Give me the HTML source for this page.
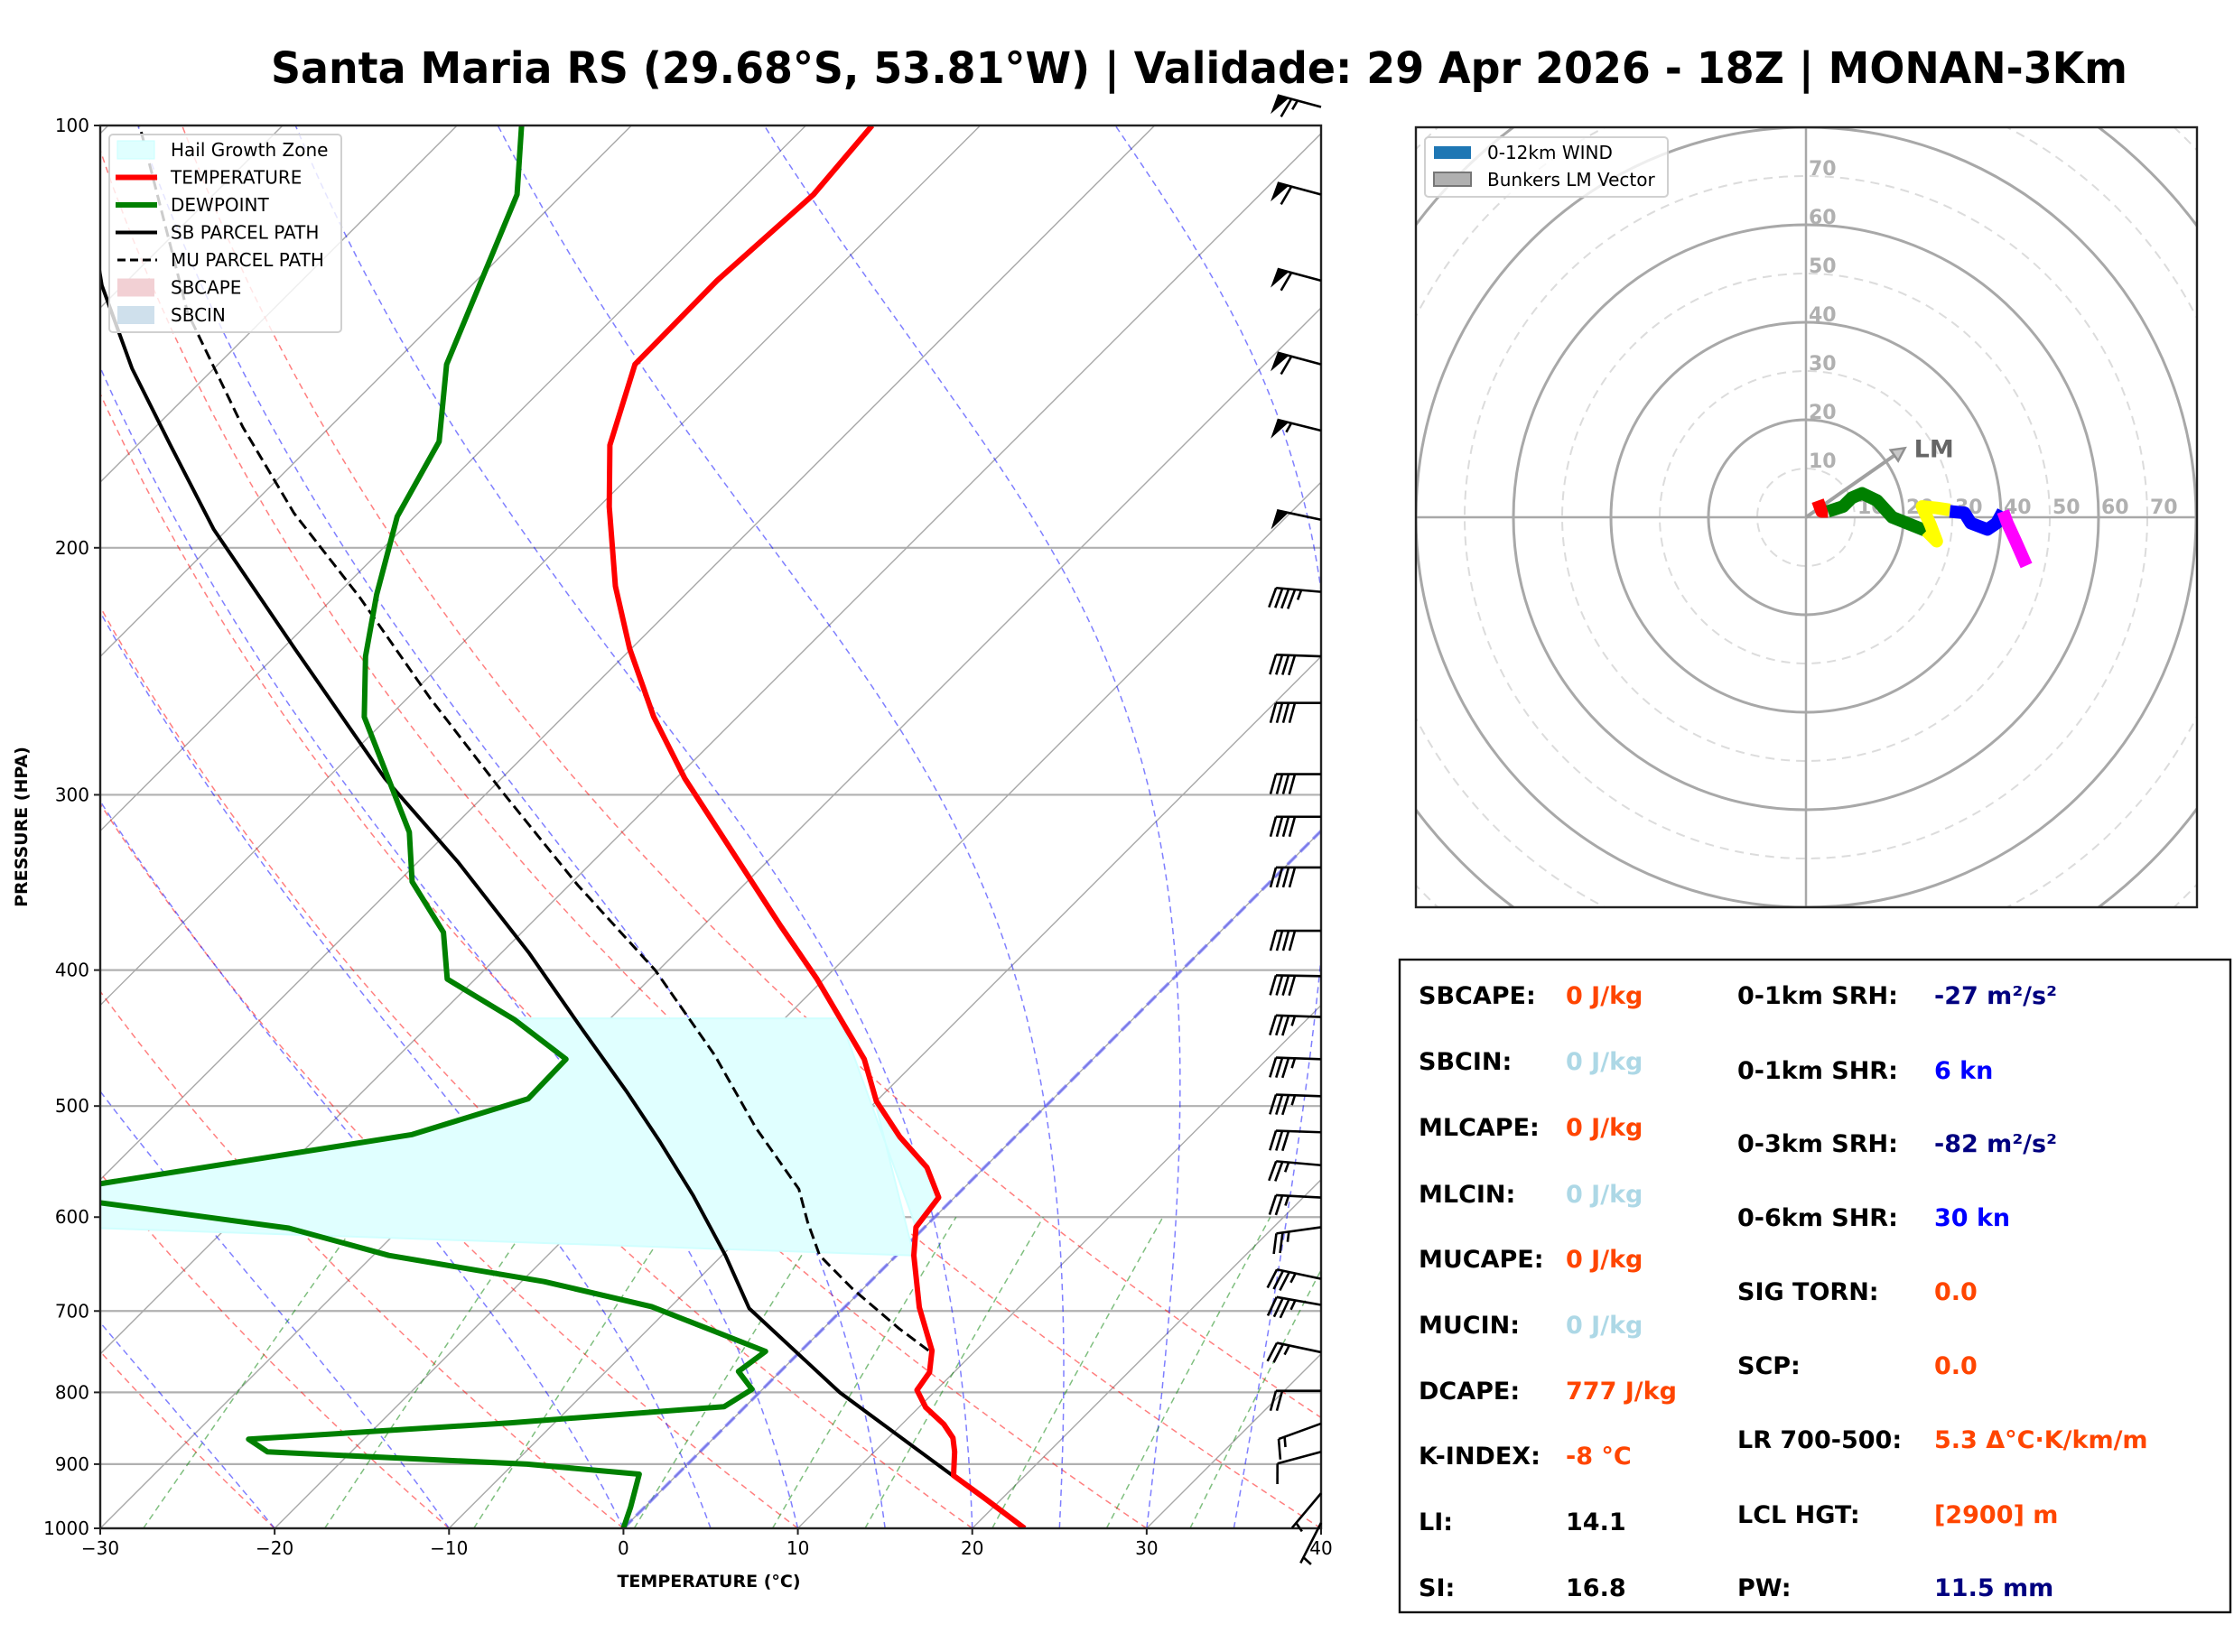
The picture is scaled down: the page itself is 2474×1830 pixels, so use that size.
<!DOCTYPE html>
<html><head><meta charset="utf-8"><title>Skew-T Santa Maria RS</title>
<style>
html,body{margin:0;padding:0;background:#fff;}
svg{display:block;font-family:"DejaVu Sans","Liberation Sans",sans-serif;}
</style></head>
<body>
<svg id="fig" xmlns="http://www.w3.org/2000/svg" width="2474" height="1830" viewBox="0 0 2474 1830">
<rect x="0" y="0" width="2474" height="1830" fill="#fff"/>
<text x="1328" y="92" text-anchor="middle" font-size="48" font-weight="bold" textLength="2056" lengthAdjust="spacingAndGlyphs">Santa Maria RS (29.68°S, 53.81°W) | Validade: 29 Apr 2026 - 18Z | MONAN-3Km</text>
<defs>
<clipPath id="skewClip"><rect x="111" y="139" width="1352" height="1554"/></clipPath>
<clipPath id="hodoClip"><rect x="1568" y="141" width="865" height="864"/></clipPath>
</defs>
<g id="skewBg" clip-path="url(#skewClip)"></g>
<g id="skewData" clip-path="url(#skewClip)"></g>
<g id="skewAxes"></g>
<g id="barbs"></g>
<g id="skewLegend"></g>
<g id="hodo"></g>
<g id="table"></g>
</svg>
<script>
// ---------------- data ----------------
const tempP = [1000,952,917,882,862,843,820,797,774,747,696,639,610,581,553,526,496,463,406,371,292,264,236,213,187,169,148,129,112,100];
const tempT = [23,19.0,15.9,14.6,13.7,12.4,10.4,8.9,8.6,7.5,4.3,1.0,-0.5,-0.9,-3.3,-6.6,-10.0,-13.1,-20.4,-25.7,-39.5,-44.8,-50.1,-54.5,-59.4,-62.9,-66.1,-66.2,-65.6,-66.2];
const dewP = [1000,966,915,900,882,864,841,819,796,773,748,695,667,639,611,586,578,524,494,463,434,406,376,346,319,264,239,216,190,168,148,112,100];
const dewT = [0,-0.8,-2.2,-9.2,-24.8,-26.6,-12.5,-1.2,-0.6,-2.4,-2.0,-11.1,-18.7,-29.1,-36.4,-48.7,-53,-34.7,-30.1,-30.2,-35.4,-41.6,-44.5,-49.2,-52.2,-61.4,-64.8,-67.7,-71.0,-72.9,-76.9,-82.6,-86.3];
const sbP = [1000,900,800,697,639,579,530,488,440,389,335,292,236,194,169,149,130,110];
const sbT = [23,14.3,4.6,-5.4,-9.8,-15.1,-20.1,-24.9,-31.1,-38.4,-47.7,-56.7,-69.3,-80.8,-88.1,-94.7,-101.2,-108];
const muP = [747,720,675,639,605,573,518,460,400,348,298,256,217,189,164,136,100];
const muT = [7.3,4.3,-0.6,-4.4,-7.0,-9.4,-15.4,-21.9,-30.2,-39.5,-49.3,-58.7,-68.5,-77.1,-85.0,-94.7,-108.2];
const hgzTopP = 433, hgzBotP = 639, hgzLeftP = 611, hgzLeftT = -47.2;
const barbP = [97,112,129,148,165,191,215,239,258,290,311,338,375,404,432,463,492,522,551,581,610,664,693,749,798,842,882,944,991];
const barbSpd = [65,60,60,60,55,50,45,40,40,40,40,40,40,40,35,35,35,30,25,25,25,35,35,25,20,15,10,5,5];
const barbDir = [285,285,285,285,284,282,275,272,270,270,270,270,270,271,272,272,272,272,275,273,262,282,280,282,270,250,255,220,207];
const pressTicks = [100,200,300,400,500,600,700,800,900,1000];
const tempTicks = [-30,-20,-10,0,10,20,30,40];
// hodograph (knots)
const hodoRedU = [2.4,3.2,4.5], hodoRedV = [3.4,1.2,1.2];
const hodoGreenU = [4.5,7.6,9.4,11.5,14.6,17.7,20.7,24.7], hodoGreenV = [1.2,2.2,4.0,4.9,3.4,0,-1.2,-2.8];
const hodoYellowU = [24.7,26.8,25.5,23.8,26.8,29.5], hodoYellowV = [-2.8,-4.9,-1.5,2.2,1.9,1.5];
const hodoBlueU = [29.5,32.5,33.8,37.2,39.1,40.4], hodoBlueV = [1.2,0.9,-1.2,-2.5,-1.2,1.2];
const hodoMagU = [40.4,41.3,43.0,45.2], hodoMagV = [1.2,-1.2,-4.9,-9.9];
const lmU = 20.3, lmV = 14.2;
const ringLabels = [10,20,30,40,50,60,70];
// table
const tblLeftLabels = ["SBCAPE:","SBCIN:","MLCAPE:","MLCIN:","MUCAPE:","MUCIN:","DCAPE:","K-INDEX:","LI:","SI:"];
const tblLeftValues = ["0 J/kg","0 J/kg","0 J/kg","0 J/kg","0 J/kg","0 J/kg","777 J/kg","-8 °C","14.1","16.8"];
const tblLeftColors = ["#ff4500","#add8e6","#ff4500","#add8e6","#ff4500","#add8e6","#ff4500","#ff4500","#000","#000"];
const tblLeftY = [1112,1185,1258,1332,1404,1477,1550,1622,1695,1768];
const tblRightLabels = ["0-1km SRH:","0-1km SHR:","0-3km SRH:","0-6km SHR:","SIG TORN:","SCP:","LR 700-500:","LCL HGT:","PW:"];
const tblRightValues = ["-27 m²/s²","6 kn","-82 m²/s²","30 kn","0.0","0.0","5.3 Δ°C·K/km/m","[2900] m","11.5 mm"];
const tblRightColors = ["#000080","#0000ff","#000080","#0000ff","#ff4500","#ff4500","#ff4500","#ff4500","#000080"];
const tblRightY = [1112,1195,1276,1358,1440,1522,1604,1687,1768];

// ---------------- helpers ----------------
const NS = "http://www.w3.org/2000/svg";
function mk(tag, attrs, parent){ const e=document.createElementNS(NS,tag); for(const k in attrs) e.setAttribute(k,attrs[k]); parent.appendChild(e); return e; }
const X0=111, X1=1463, YT=139, YB=1693, PXC=(X1-X0)/70;
function yP(p){ return YT + (Math.log10(p)-2)*(YB-YT); }
function xT(T,p){ return X0 + (T+30)*PXC + (YB - yP(p)); }
function pts(Ts,Ps){ return Ts.map((t,i)=>xT(t,Ps[i]).toFixed(1)+","+yP(Ps[i]).toFixed(1)).join(" "); }

const bg=document.getElementById('skewBg');
pressTicks.forEach(p=>{
  const l=mk('line',{x1:X0,x2:X1,y1:yP(p),y2:yP(p),stroke:'#b0b0b0','stroke-width':2.2},bg);
  
  
});
for(let T=-170;T<=40;T+=10){
  const l=mk('line',{x1:xT(T,1050),y1:yP(1050),x2:xT(T,95),y2:yP(95),stroke:'#a8a8a8','stroke-width':1.4},bg);
  
  
}
for(let T0=-40;T0<=50;T0+=10){
  const th=T0+273.15, a=[], b=[];
  for(let p=1000;p>=100;p-=10){ a.push(th*Math.pow(p/1000,0.2857)-273.15); b.push(p); }
  const l=mk('polyline',{points:pts(a,b),fill:'none',stroke:'#ff0000','stroke-opacity':0.5,'stroke-width':1.5,'stroke-dasharray':'7,5'},bg);
  
  
}
function lapse(p,T){ const Tc=T-273.15; const es=6.112*Math.exp(17.67*Tc/(Tc+243.5)); const rs=0.622*es/(p-es);
  return (287.04*T+2.501e6*rs)/(1005.7+2.501e6*2.501e6*rs*0.622/(287.04*T*T))/p; }
const moistT0=[-40,-30,-20,-10,0,5,10,15,20,25,30,35,40,45];
moistT0.forEach(T0=>{
  let T=T0+273.15, p=1000; const a=[T0], b=[1000]; const dp=-5;
  while(p>100){ const k1=lapse(p,T); const k2=lapse(p+dp/2,T+k1*dp/2); T+=k2*dp; p+=dp; a.push(T-273.15); b.push(p); }
  const l=mk('polyline',{points:pts(a,b),fill:'none',stroke:'#0000ff','stroke-opacity':0.5,'stroke-width':1.5,'stroke-dasharray':'7,5'},bg);
  
  
});
[0.0004,0.001,0.002,0.004,0.007,0.01,0.016,0.024,0.032].forEach(w=>{
  const a=[],b=[];
  for(let p=1000;p>=600;p-=20){ const e=w*p/(0.622+w); const L=Math.log(e/6.112); a.push(243.5*L/(17.67-L)); b.push(p); }
  const l=mk('polyline',{points:pts(a,b),fill:'none',stroke:'#008000','stroke-opacity':0.5,'stroke-width':1.5,'stroke-dasharray':'7,5'},bg);
  
  
});
{ const l=mk('line',{x1:xT(0,1000),y1:yP(1000),x2:xT(0,100),y2:yP(100),stroke:'#5555ff','stroke-opacity':0.6,'stroke-width':3.5,'stroke-dasharray':'14,6'},bg);
  
   }

// ---------------- profiles ----------------
const sd=document.getElementById('skewData');
function interp(P,V,p){ for(let i=0;i<P.length-1;i++){ if((p<=P[i]&&p>=P[i+1])){ const f=Math.log(p/P[i])/Math.log(P[i+1]/P[i]); return V[i]+f*(V[i+1]-V[i]); } } return V[V.length-1]; }
{
  const a=[],b=[];
  a.push(interp(tempP,tempT,hgzTopP)); b.push(hgzTopP);
  tempP.forEach((p,i)=>{ if(p>hgzTopP&&p<hgzBotP){ a.push(tempT[i]); b.push(p);} });
  a.push(interp(tempP,tempT,hgzBotP)); b.push(hgzBotP);
  a.push(hgzLeftT); b.push(hgzLeftP);
  const dd=[]; dewP.forEach((p,i)=>{ if(p<=580&&p>hgzTopP) dd.push([dewT[i],p]); });
  dd.forEach(d=>{a.push(d[0]); b.push(d[1]);});
  a.push(interp(dewP,dewT,hgzTopP)); b.push(hgzTopP);
  const poly=mk('polygon',{points:pts(a,b),fill:'#e0ffff',stroke:'#d0ffff','stroke-width':2},sd);
  
  
}
{ const l=mk('polyline',{points:pts(sbT,sbP),fill:'none',stroke:'#000','stroke-width':4},sd);
    }
{ const l=mk('polyline',{points:pts(muT,muP),fill:'none',stroke:'#000','stroke-width':3,'stroke-dasharray':'12,6'},sd);
    }
{ const l=mk('polyline',{points:pts(dewT,dewP),fill:'none',stroke:'#008000','stroke-width':6,'stroke-linejoin':'round'},sd);
    }
{ const l=mk('polyline',{points:pts(tempT,tempP),fill:'none',stroke:'#ff0000','stroke-width':6,'stroke-linejoin':'round'},sd);
    }

// ---------------- axes ----------------
const ax=document.getElementById('skewAxes');
mk('rect',{x:X0,y:YT,width:X1-X0,height:YB-YT,fill:'none',stroke:'#222','stroke-width':2.4},ax);
pressTicks.forEach(p=>{
  mk('line',{x1:X0-7,x2:X0,y1:yP(p),y2:yP(p),stroke:'#222','stroke-width':2},ax);
  const t=mk('text',{x:X0-12,y:yP(p)+7,'text-anchor':'end','font-size':20},ax); t.textContent=p;
   
});
tempTicks.forEach(T=>{
  const x=X0+(T+30)*PXC;
  mk('line',{x1:x,x2:x,y1:YB,y2:YB+7,stroke:'#222','stroke-width':2},ax);
  const t=mk('text',{x:x,y:YB+29,'text-anchor':'middle','font-size':20},ax); t.textContent=(T<0?'\u2212'+(-T):T);
   
});
{ const t=mk('text',{x:785,y:1758,'text-anchor':'middle','font-size':19,'font-weight':'bold'},ax); t.textContent='TEMPERATURE (°C)';
   
  const t2=mk('text',{x:0,y:0,'text-anchor':'middle','font-size':19,'font-weight':'bold',transform:'translate(30,916) rotate(-90)'},ax); t2.textContent='PRESSURE (HPA)';
    }

// ---------------- barbs ----------------
const bb=document.getElementById('barbs');
barbP.forEach((p,i)=>{
  const g=mk('g',{},bb);
  
  
  const r=barbDir[i]*Math.PI/180, dx=Math.sin(r), dy=-Math.cos(r), nx=dy, ny=-dx;
  const bx=X1, by=yP(p), L=50, H=22;
  const tx=bx+dx*L, ty=by+dy*L;
  mk('line',{x1:bx,y1:by,x2:tx,y2:ty,stroke:'#000','stroke-width':2.6},g);
  let s=Math.round(barbSpd[i]/5)*5; let pos=0;
  const P=(k)=>[tx-dx*k, ty-dy*k];
  while(s>=50){ const a=P(pos), c=P(pos+13);
    mk('polygon',{points:`${a[0]},${a[1]} ${a[0]+nx*H+dx*2},${a[1]+ny*H+dy*2} ${c[0]},${c[1]}`,fill:'#000'},g); pos+=16; s-=50; }
  while(s>=10){ const a=P(pos); mk('line',{x1:a[0],y1:a[1],x2:a[0]+nx*H+dx*6,y2:a[1]+ny*H+dy*6,stroke:'#000','stroke-width':2.6},g); pos+=7; s-=10; }
  if(s>=5){ if(pos===0) pos=7; const a=P(pos); mk('line',{x1:a[0],y1:a[1],x2:a[0]+nx*H*0.5+dx*3,y2:a[1]+ny*H*0.5+dy*3,stroke:'#000','stroke-width':2.6},g); }
});

// ---------------- skew legend ----------------
const lg=document.getElementById('skewLegend');
mk('rect',{x:121,y:149,width:257,height:219,rx:4,fill:'#fff','fill-opacity':0.8,stroke:'#d0d0d0','stroke-width':2},lg);
const legItems=[["Hail Growth Zone","patch","#e0ffff"],["TEMPERATURE","line","#ff0000"],["DEWPOINT","line","#008000"],["SB PARCEL PATH","line","#000"],["MU PARCEL PATH","dash","#000"],["SBCAPE","patch","#f2d0d4"],["SBCIN","patch","#cfe0ec"]];
legItems.forEach((it,i)=>{
  const y=166+i*30.5;
  const g=mk('g',{},lg);
  
  
  if(it[1]==='patch') mk('rect',{x:130,y:y-10,width:41,height:20,fill:it[2],stroke:it[0]==='Hail Growth Zone'?'#c8ffff':'none'},g);
  else if(it[1]==='line') mk('line',{x1:128,x2:174,y1:y,y2:y,stroke:it[2],'stroke-width':it[0]==='SB PARCEL PATH'?4:6},g);
  else mk('line',{x1:130,x2:174,y1:y,y2:y,stroke:it[2],'stroke-width':3,'stroke-dasharray':'9,5'},g);
  const t=mk('text',{x:189,y:y+7,'font-size':20},g); t.textContent=it[0];
});

// ---------------- hodograph ----------------
const hd=document.getElementById('hodo');
const HC={x:2000,y:573}, HS=5.4;
const hx=u=>HC.x+u*HS, hy=v=>HC.y-v*HS;
const hin=mk('g',{'clip-path':'url(#hodoClip)'},hd);
for(let r=10;r<=110;r+=10){
  const c=mk('circle',{cx:HC.x,cy:HC.y,r:r*HS,fill:'none',stroke:(r%20===0)?'#a8a8a8':'#dcdcdc','stroke-width':(r%20===0)?3:2,'stroke-dasharray':(r%20===0)?'none':'10,7'},hin);
   
}
mk('line',{x1:1568,x2:2433,y1:HC.y,y2:HC.y,stroke:'#a8a8a8','stroke-width':2.5},hin);
mk('line',{x1:HC.x,x2:HC.x,y1:141,y2:1005,stroke:'#a8a8a8','stroke-width':2.5},hin);
ringLabels.forEach(r=>{
  const t=mk('text',{x:hx(r)+3,y:HC.y-4,'font-size':22,'font-weight':'bold',fill:'#b0b0b0'},hin); t.textContent=r;
   
  const t2=mk('text',{x:HC.x+3,y:hy(r)-1,'font-size':22,'font-weight':'bold',fill:'#b0b0b0'},hin); t2.textContent=r;
   
});
{ const ex=hx(lmU), ey=hy(lmV); const ang=Math.atan2(ey-HC.y,ex-HC.x);
  mk('line',{x1:HC.x,y1:HC.y,x2:ex-Math.cos(ang)*8,y2:ey-Math.sin(ang)*8,stroke:'#a0a0a0','stroke-width':4},hin);
  const a1=ang+Math.PI*0.85, a2=ang-Math.PI*0.85, h=16;
  const ar=mk('polygon',{points:`${ex},${ey} ${ex+Math.cos(a1)*h},${ey+Math.sin(a1)*h} ${ex+Math.cos(a2)*h},${ey+Math.sin(a2)*h}`,fill:'#c8c8c8',stroke:'#909090','stroke-width':2.5},hin);
   
  const t=mk('text',{x:ex+10,y:ey+10,'font-size':27,'font-weight':'bold',fill:'#666'},hin); t.textContent='LM';
    }
[[hodoRedU,hodoRedV,'#ff0000','hodo-0-1km'],[hodoGreenU,hodoGreenV,'#008000','hodo-1-3km'],[hodoYellowU,hodoYellowV,'#ffff00','hodo-3-6km'],[hodoBlueU,hodoBlueV,'#0000ff','hodo-6-9km'],[hodoMagU,hodoMagV,'#ff00ff','hodo-9-12km']].forEach(s=>{
  const l=mk('polyline',{points:s[0].map((u,i)=>hx(u).toFixed(1)+','+hy(s[1][i]).toFixed(1)).join(' '),fill:'none',stroke:s[2],'stroke-width':14,'stroke-linejoin':'round'},hin);
   
});
mk('rect',{x:1568,y:141,width:865,height:864,fill:'none',stroke:'#222','stroke-width':2.4},hd);
{ const g=mk('g',{},hd);
   
  mk('rect',{x:1578,y:152,width:269,height:66,rx:4,fill:'#fff','fill-opacity':0.8,stroke:'#d0d0d0','stroke-width':2},g);
  mk('rect',{x:1588,y:162,width:41,height:14,fill:'#1f77b4'},g);
  const t=mk('text',{x:1647,y:176,'font-size':20},g); t.textContent='0-12km WIND';
  mk('rect',{x:1588,y:191,width:41,height:15,fill:'#b0b0b0',stroke:'#777','stroke-width':2},g);
  const t2=mk('text',{x:1647,y:206,'font-size':20},g); t2.textContent='Bunkers LM Vector'; }

// ---------------- table ----------------
const tb=document.getElementById('table');
mk('rect',{x:1550,y:1063,width:920,height:723,fill:'#fff',stroke:'#111','stroke-width':2.4},tb);
function tt(x,y,s,c,name){ const t=mk('text',{x:x,y:y,'font-size':27,'font-weight':'bold',fill:c},tb); t.textContent=s;
    }
tblLeftLabels.forEach((s,i)=>{ tt(1571,tblLeftY[i],s,'#000','table-label'); tt(1734,tblLeftY[i],tblLeftValues[i],tblLeftColors[i],'table-value'); });
tblRightLabels.forEach((s,i)=>{ tt(1924,tblRightY[i],s,'#000','table-label'); tt(2142,tblRightY[i],tblRightValues[i],tblRightColors[i],'table-value'); });
</script>
</body></html>
